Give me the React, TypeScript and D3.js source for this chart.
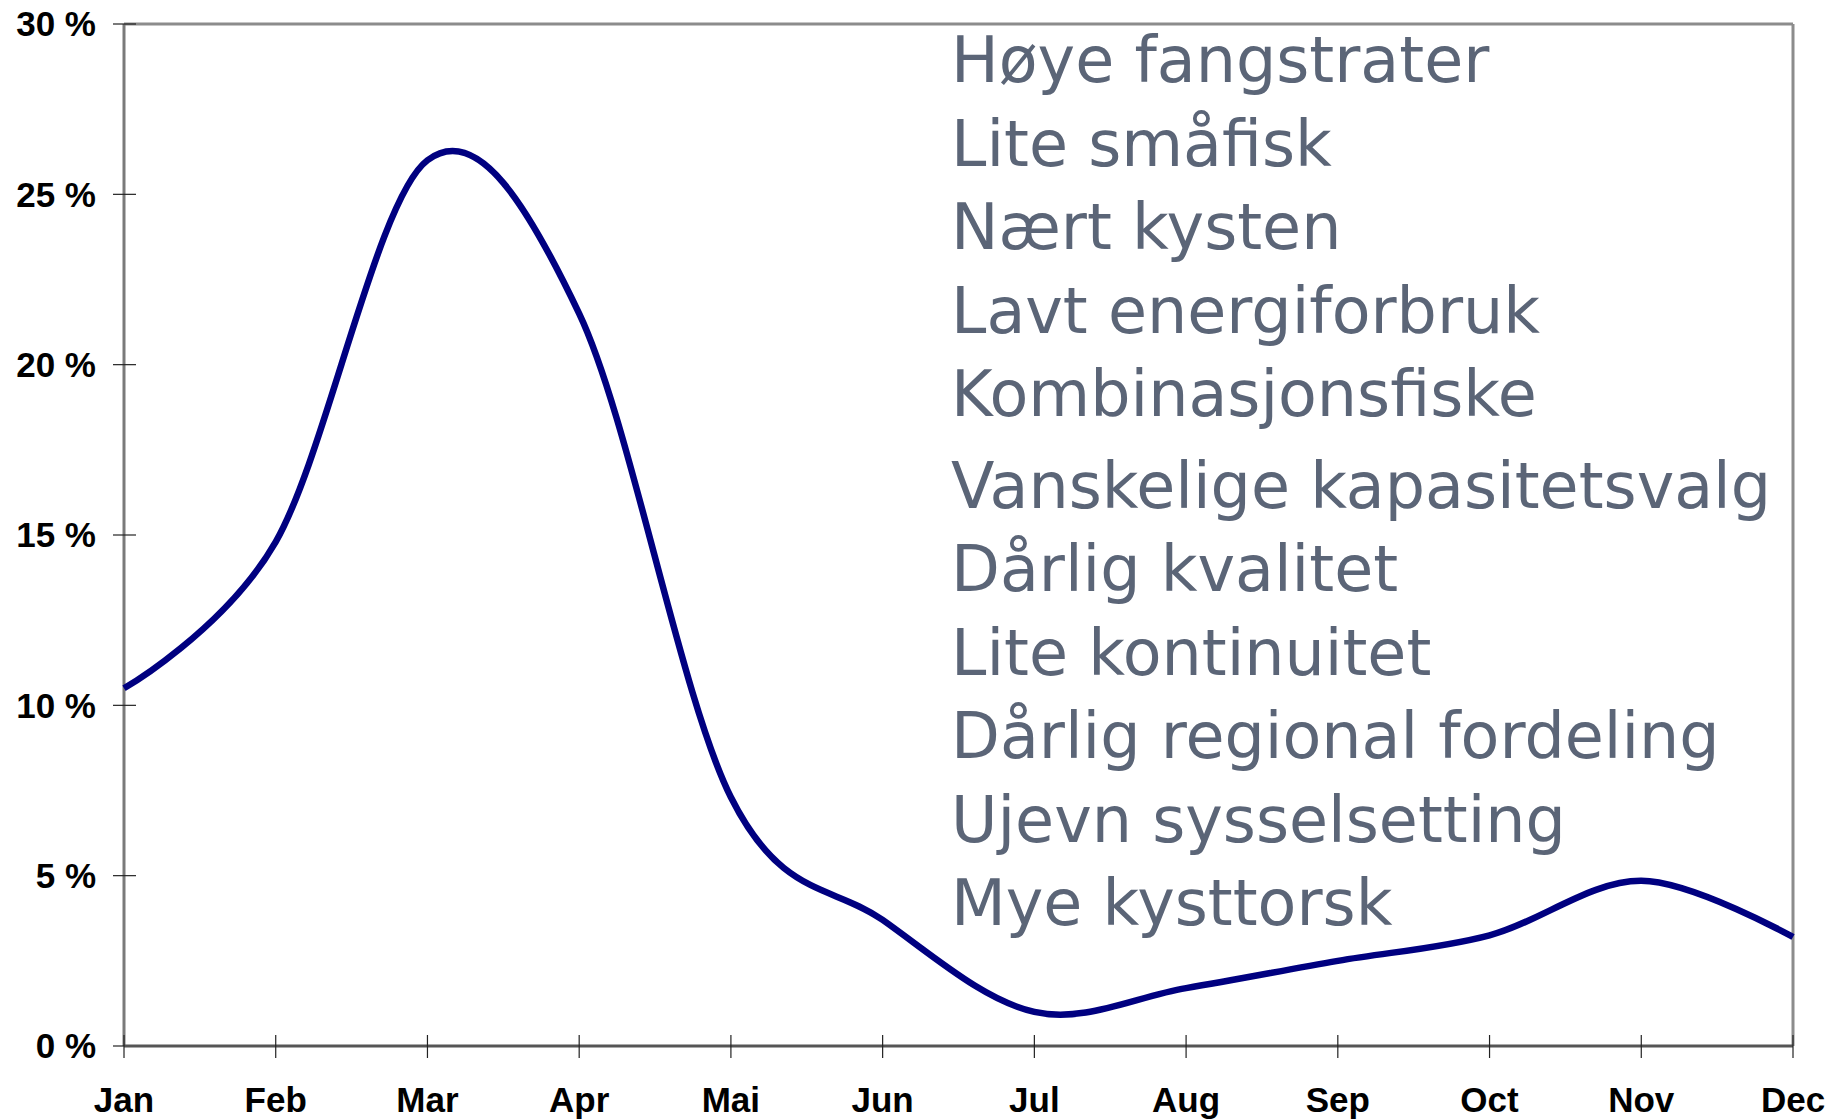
import React, { useEffect, useRef } from 'react';
import * as d3 from 'd3';

const months = ['Jan', 'Feb', 'Mar', 'Apr', 'Mai', 'Jun', 'Jul', 'Aug', 'Sep', 'Oct', 'Nov', 'Dec'];
const share = [10.5, 14.8, 26.0, 21.5, 7.3, 3.7, 1.0, 1.7, 2.5, 3.25, 4.85, 3.2];
const yTicks = [0, 5, 10, 15, 20, 25, 30];
const notes = [
  'Høye fangstrater',
  'Lite småfisk',
  'Nært kysten',
  'Lavt energiforbruk',
  'Kombinasjonsfiske',
  'Vanskelige kapasitetsvalg',
  'Dårlig kvalitet',
  'Lite kontinuitet',
  'Dårlig regional fordeling',
  'Ujevn sysselsetting',
  'Mye kysttorsk',
];

export default function App() {
  const svgRef = useRef(null);

  useEffect(() => {
    const W = 1841;
    const H = 1119;
    const left = 124, right = 1793, top = 24, bottom = 1046;

    const svg = d3.select(svgRef.current);
    svg.selectAll('*').remove();

    const x = d3.scalePoint().domain(months).range([left, right]);
    const y = d3.scaleLinear().domain([0, 30]).range([bottom, top]);

    svg.append('rect').attr('width', W).attr('height', H).attr('fill', '#fff');

    // frame: top + right borders
    svg.append('line')
      .attr('x1', left).attr('x2', right).attr('y1', top).attr('y2', top)
      .attr('stroke', '#8c8c8c').attr('stroke-width', 3);
    svg.append('line')
      .attr('x1', right).attr('x2', right).attr('y1', top).attr('y2', bottom)
      .attr('stroke', '#8c8c8c').attr('stroke-width', 3);

    // y axis
    svg.append('line')
      .attr('x1', left).attr('x2', left).attr('y1', top).attr('y2', bottom)
      .attr('stroke', '#7a7a7a').attr('stroke-width', 3);
    svg.selectAll('.ytick')
      .data(yTicks)
      .join('line')
      .attr('class', 'ytick')
      .attr('x1', left - 11).attr('x2', left + 12)
      .attr('y1', d => y(d)).attr('y2', d => y(d))
      .attr('stroke', '#222').attr('stroke-width', 1.2);
    svg.selectAll('.ylab')
      .data(yTicks)
      .join('text')
      .attr('class', 'ylab')
      .attr('x', 96)
      .attr('y', d => y(d))
      .attr('dy', '0.35em')
      .attr('text-anchor', 'end')
      .attr('font-family', "Arial, 'Liberation Sans', sans-serif")
      .attr('font-weight', 'bold')
      .attr('font-size', 35)
      .attr('fill', '#000')
      .text(d => `${d} %`);

    // x axis
    svg.append('line')
      .attr('x1', left).attr('x2', right).attr('y1', bottom).attr('y2', bottom)
      .attr('stroke', '#555').attr('stroke-width', 3);
    svg.selectAll('.xtick')
      .data(months)
      .join('line')
      .attr('class', 'xtick')
      .attr('x1', d => x(d)).attr('x2', d => x(d))
      .attr('y1', bottom - 11).attr('y2', bottom + 12)
      .attr('stroke', '#222').attr('stroke-width', 1.2);
    svg.selectAll('.xlab')
      .data(months)
      .join('text')
      .attr('class', 'xlab')
      .attr('x', d => x(d))
      .attr('y', 1112)
      .attr('text-anchor', 'middle')
      .attr('font-family', "Arial, 'Liberation Sans', sans-serif")
      .attr('font-weight', 'bold')
      .attr('font-size', 35)
      .attr('fill', '#000')
      .text(d => d);

    // smoothed line (Excel-style smoothing ~ uniform Catmull-Rom)
    const line = d3.line()
      .x((d, i) => x(months[i]))
      .y(d => y(d))
      .curve(d3.curveCardinal.tension(0));
    svg.append('path')
      .datum(share)
      .attr('d', line)
      .attr('fill', 'none')
      .attr('stroke', '#000080')
      .attr('stroke-width', 6.5)
      .attr('stroke-linejoin', 'round');

    // text block
    svg.selectAll('.note')
      .data(notes)
      .join('text')
      .attr('class', 'note')
      .attr('x', 951)
      .attr('y', (d, i) => 82 + i * 83.5 + (i >= 5 ? 8 : 0))
      .attr('font-family', "'Comic Sans MS', 'DejaVu Sans', sans-serif")
      .attr('font-size', 63.5)
      .attr('fill', '#5b6577')
      .text(d => d);
  }, []);

  return (
    <div style={{ position: 'absolute', left: 0, top: 0 }}>
      <svg ref={svgRef} width={1841} height={1119} style={{ display: 'block' }} />
    </div>
  );
}
